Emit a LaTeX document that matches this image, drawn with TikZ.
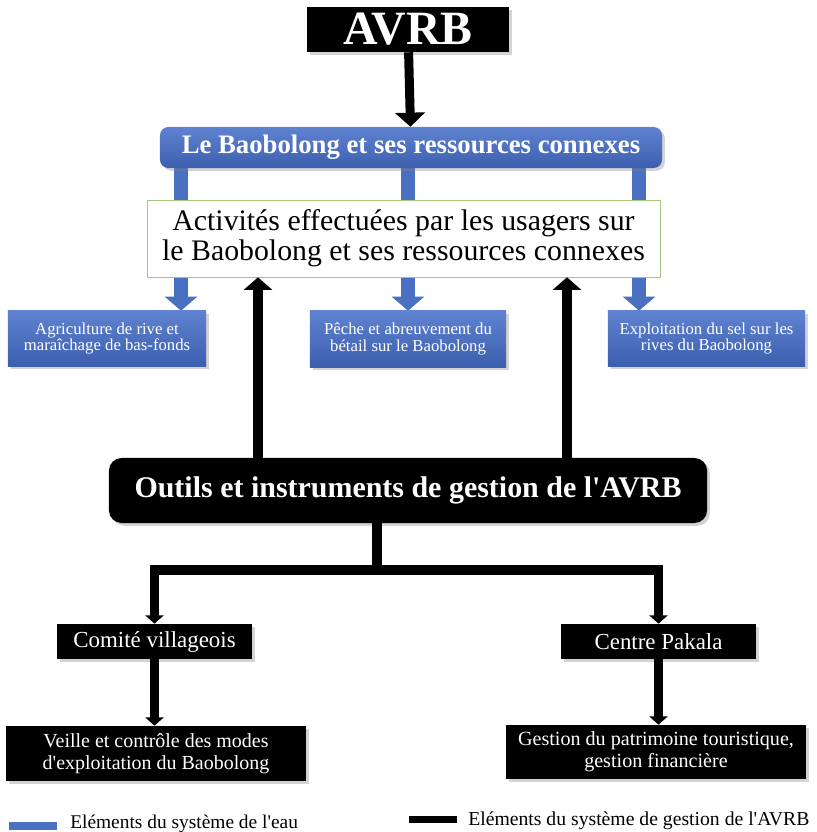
\documentclass[tikz,border=0pt]{standalone}
\usepackage{fontspec}
\setmainfont{Liberation Serif}
\usepackage{tikz}
\usetikzlibrary{arrows.meta,positioning,backgrounds,shadows}
\definecolor{eau}{HTML}{4A70C2}
\definecolor{eautop}{HTML}{5F83D0}
\definecolor{eaubot}{HTML}{3C5EAE}
\definecolor{cadre}{HTML}{A9C47F}
\newcommand{\apos}{\textquotesingle}
\tikzset{
  blackbox/.style={fill=black,text=white,inner sep=0pt,align=center,
    drop shadow={shadow xshift=2pt,shadow yshift=-2pt,opacity=0.35}},
  bluebox/.style={top color=eautop,bottom color=eaubot,text=white,inner sep=0pt,align=center,
    drop shadow={shadow xshift=2pt,shadow yshift=-2pt,opacity=0.35}},
  eauarrow/.style={draw=eau,line width=9.9pt,-{Triangle[width=22.7pt,length=10pt]}},
  gestarrow/.style={line width=7.6pt,-{Triangle[width=20pt,length=9pt]}},
  treeline/.style={line width=7pt,-{Triangle[width=13pt,length=6pt]}},
}
\begin{document}
\begin{tikzpicture}[x=0.025cm,y=-0.025cm]
\useasboundingbox (0,0) rectangle (816,832);
% top of the chart
\node[blackbox,minimum width=5.05cm,minimum height=1.125cm,font=\fontsize{34}{36}\bfseries] (avrb) at (408,29.5) {AVRB};
\node[bluebox,rounded corners=6pt,minimum width=12.55cm,minimum height=1.025cm,font=\fontsize{19}{21}\bfseries] (baob) at (411,147.5) {Le Baobolong et ses ressources connexes};
\node[draw=cadre,fill=white,inner sep=0pt,align=center,minimum width=12.825cm,minimum height=1.925cm,font=\fontsize{21.2}{21.5}\selectfont] (act) at (403.5,238.5) {Activités effectuées par les usagers sur\\le Baobolong et ses ressources connexes};
\node[bluebox,minimum width=4.95cm,minimum height=1.375cm,font=\fontsize{11.9}{12}\selectfont] (agri) at (107,338.5) {Agriculture de rive et\\maraîchage de bas-fonds};
\node[bluebox,minimum width=4.9cm,minimum height=1.4cm,font=\fontsize{11.9}{12}\selectfont] (peche) at (408,339) {Pêche et abreuvement du\\bétail sur le Baobolong};
\node[bluebox,minimum width=4.925cm,minimum height=1.375cm,font=\fontsize{11.9}{12}\selectfont] (sel) at (706.5,338.5) {Exploitation du sel sur les\\rives du Baobolong};
% management side
\node[blackbox,rounded corners=9pt,minimum width=14.95cm,minimum height=1.625cm,font=\fontsize{21.3}{23}\bfseries] (outils) at (408,490.5) {Outils et instruments de gestion de l\apos AVRB};
\node[blackbox,minimum width=4.875cm,minimum height=0.875cm,font=\fontsize{16.3}{18}\selectfont] (comite) at (154.5,641.5) {Comité villageois};
\node[blackbox,minimum width=4.875cm,minimum height=0.875cm,font=\fontsize{16.3}{18}\selectfont] (pakala) at (658.5,641.5) {Centre Pakala};
\node[blackbox,minimum width=7.5cm,minimum height=1.375cm,font=\fontsize{14.2}{15.5}\selectfont] (veille) at (156,753.5) {Veille et contrôle des modes\\d\apos exploitation du Baobolong};
\node[blackbox,minimum width=7.5cm,minimum height=1.35cm,font=\fontsize{14.3}{15.5}\selectfont] (gestion) at (656,752) {Gestion du patrimoine touristique,\\gestion financière};
% connectors
\coordinate (w1) at (181,0);
\coordinate (w2) at (408,0);
\coordinate (w3) at (639,0);
\coordinate (u1) at (258,0);
\coordinate (u2) at (567,0);
\coordinate (hub) at (377,570);
\draw[line width=6.4pt,-{Triangle[width=21pt,length=10pt]}] (avrb) -- (baob);
\begin{scope}[on background layer]
\foreach \c/\b in {w1/agri,w2/peche,w3/sel}
  \draw[eauarrow] (baob.south -| \c) -- (\b.north -| \c);
\end{scope}
\foreach \c in {u1,u2}
  \draw[gestarrow] (outils.north -| \c) -- (act.south -| \c);
\draw[line width=7pt] (outils.south -| hub) -- (hub);
\draw[treeline] (hub) -| (comite.north);
\draw[treeline] (hub) -| (pakala.north);
\draw[treeline] (comite.south) -- (comite.south |- veille.north);
\draw[treeline] (pakala.south) -- (pakala.south |- gestion.north);
% legend
\node[fill=eau,inner sep=0pt,minimum width=1.2cm,minimum height=0.2cm] (keyeau) at (33,826) {};
\node[anchor=west,inner sep=0pt,font=\fontsize{13.8}{15}\selectfont] (txteau) at (70,824) {Eléments du système de l\apos eau};
\node[fill=black,inner sep=0pt,minimum width=1.2cm,minimum height=0.175cm] (keygest) at (433,819.5) {};
\node[anchor=west,inner sep=0pt,font=\fontsize{14}{15}\selectfont] (txtgest) at (468,821) {Eléments du système de gestion de l\apos AVRB};
\end{tikzpicture}
\end{document}
